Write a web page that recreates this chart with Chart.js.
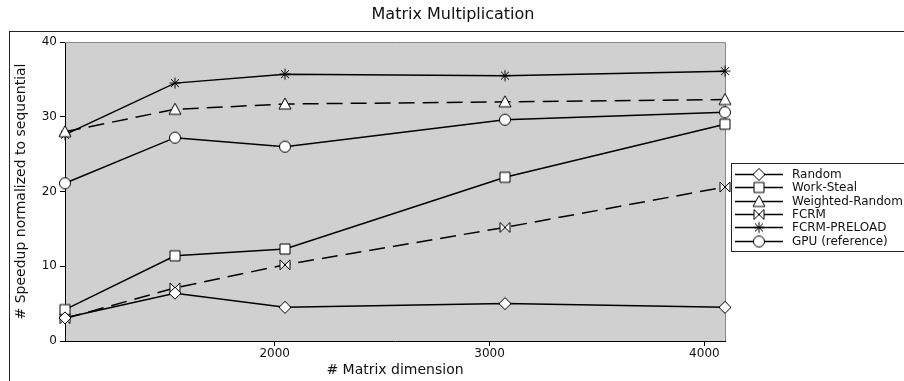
<!DOCTYPE html>
<html>
<head>
<meta charset="utf-8">
<script src="https://cdn.jsdelivr.net/npm/chart.js@4/dist/chart.umd.min.js"></script>
<style>
  html, body { margin: 0; padding: 0; background: #fff; }
  #wrap { width: 904px; height: 381px; }
</style>
</head>
<body>
<div id="wrap"><canvas id="myChart" width="904" height="381"></canvas></div>
<script>
// data
var dims = [1024, 1536, 2048, 3072, 4096];
var seriesNames = ['Random', 'Work-Steal', 'Weighted-Random', 'FCRM', 'FCRM-PRELOAD', 'GPU (reference)'];
var randomVals = [3.1, 6.4, 4.5, 5.0, 4.5];
var workStealVals = [4.2, 11.4, 12.3, 21.9, 29.0];
var weightedVals = [28.0, 31.0, 31.7, 32.0, 32.3];
var fcrmVals = [3.0, 7.1, 10.2, 15.2, 20.6];
var preloadVals = [27.6, 34.5, 35.7, 35.5, 36.1];
var gpuVals = [21.1, 27.2, 26.0, 29.6, 30.6];
var xTicks = [2000, 3000, 4000];
var yTicks = [0, 10, 20, 30, 40];

var FONT = "'DejaVu Sans', sans-serif";

// marker images, drawn once and used for the points and the legend
function makeMarker(kind) {
    var c = document.createElement('canvas');
    c.width = 16; c.height = 16;
    var g = c.getContext('2d');
    g.translate(8, 8);
    g.lineWidth = 1;
    g.strokeStyle = '#000';
    g.fillStyle = '#fff';
    g.beginPath();
    if (kind == 'diamond') {
        g.moveTo(0, -6); g.lineTo(6, 0); g.lineTo(0, 6); g.lineTo(-6, 0); g.closePath();
    } else if (kind == 'square') {
        g.rect(-5, -5, 10, 10);
    } else if (kind == 'triangle') {
        g.moveTo(0, -6); g.lineTo(6, 5); g.lineTo(-6, 5); g.closePath();
    } else if (kind == 'bowtie') {
        g.moveTo(-5, -5); g.lineTo(5, 5); g.lineTo(5, -5); g.lineTo(-5, 5); g.closePath();
    } else if (kind == 'circle') {
        g.arc(0, 0, 5.5, 0, Math.PI * 2);
    }
    if (kind == 'star') {
        g.moveTo(0, -5.5); g.lineTo(0, 5.5);
        g.moveTo(-5.5, 0); g.lineTo(5.5, 0);
        g.moveTo(-4, -4); g.lineTo(4, 4);
        g.moveTo(4, -4); g.lineTo(-4, 4);
        g.stroke();
    } else {
        g.fill();
        g.stroke();
    }
    return c;
}

var markers = [makeMarker('diamond'), makeMarker('square'), makeMarker('triangle'),
               makeMarker('bowtie'), makeMarker('star'), makeMarker('circle')];
var dashes = [[], [], [16, 8], [16, 8], [], []];
var allVals = [randomVals, workStealVals, weightedVals, fcrmVals, preloadVals, gpuVals];

var datasets = [];
for (var i = 0; i < seriesNames.length; i++) {
    var pts = [];
    for (var j = 0; j < dims.length; j++) {
        pts.push({x: dims[j], y: allVals[i][j]});
    }
    datasets.push({
        label: seriesNames[i],
        data: pts,
        borderColor: '#000',
        borderWidth: 1.5,
        borderDash: dashes[i],
        pointStyle: markers[i],
        pointRadius: 6,
        pointHoverRadius: 6,
        fill: false,
        tension: 0,
        clip: false
    });
}

// frame, title, plot background and the legend box
const decor = {
    id: 'decor',
    beforeDraw: function(chart) {
        var ctx = chart.ctx, a = chart.chartArea;
        ctx.save();
        ctx.strokeStyle = '#222';
        ctx.lineWidth = 1;
        ctx.strokeRect(9.5, 31.5, 1000, 500);
        ctx.fillStyle = '#d0d0d0';
        ctx.fillRect(a.left, a.top, a.right - a.left, a.bottom - a.top);
        ctx.fillStyle = '#111';
        ctx.font = '16px ' + FONT;
        ctx.textAlign = 'center';
        ctx.textBaseline = 'middle';
        ctx.fillText('Matrix Multiplication', 453, 15);
        ctx.restore();
    },
    beforeDatasetsDraw: function(chart) {
        var ctx = chart.ctx, a = chart.chartArea;
        ctx.save();
        ctx.strokeStyle = '#888';
        ctx.lineWidth = 1;
        ctx.beginPath();
        ctx.moveTo(a.left, a.top + 0.5);
        ctx.lineTo(a.right + 0.5, a.top + 0.5);
        ctx.lineTo(a.right + 0.5, a.bottom);
        ctx.stroke();
        ctx.restore();
    },
    afterDraw: function(chart) {
        var ctx = chart.ctx;
        ctx.save();
        ctx.fillStyle = '#fff';
        ctx.fillRect(731.5, 163.5, 200, 88);
        ctx.strokeStyle = '#222';
        ctx.lineWidth = 1;
        ctx.strokeRect(731.5, 163.5, 200, 88);
        ctx.font = '12px ' + FONT;
        ctx.textBaseline = 'middle';
        for (var i = 0; i < seriesNames.length; i++) {
            var y = Math.round(174 + i * 13.3);
            ctx.strokeStyle = '#000';
            ctx.lineWidth = 1.5;
            ctx.beginPath();
            ctx.moveTo(735, y + 0.5);
            ctx.lineTo(783, y + 0.5);
            ctx.stroke();
            ctx.drawImage(markers[i], 759 - 8, y - 7.5);
            ctx.fillStyle = '#111';
            ctx.fillText(seriesNames[i], 792, y + 1);
        }
        ctx.restore();
    }
};

const ctx = document.getElementById('myChart');
const myChart = new Chart(ctx, {
    type: 'line',
    data: { datasets: datasets },
    options: {
        responsive: false,
        animation: false,
        events: [],
        layout: { padding: { top: 42, right: 179, left: 0, bottom: 0 } },
        plugins: {
            legend: { display: false },
            tooltip: { enabled: false },
            title: { display: false }
        },
        scales: {
            x: {
                type: 'linear',
                min: dims[0],
                max: dims[dims.length - 1],
                afterBuildTicks: function(scale) {
                    scale.ticks = xTicks.map(function(v) { return {value: v}; });
                },
                afterFit: function(scale) { scale.height = 40; },
                grid: { drawOnChartArea: false, drawTicks: true, tickLength: 5, color: '#000' },
                border: { color: '#000', width: 1 },
                ticks: {
                    color: '#111', font: { family: FONT, size: 12 }, padding: 1, maxRotation: 0,
                    callback: function(v) { return String(v); }
                },
                title: {
                    display: true,
                    text: '# Matrix dimension',
                    color: '#111',
                    font: { family: FONT, size: 14 },
                    padding: { top: 0, bottom: 2 }
                }
            },
            y: {
                min: 0,
                max: 40,
                afterBuildTicks: function(scale) {
                    scale.ticks = yTicks.map(function(v) { return {value: v}; });
                },
                afterFit: function(scale) { scale.width = 65; },
                grid: { drawOnChartArea: false, drawTicks: true, tickLength: 5, color: '#000' },
                border: { color: '#000', width: 1 },
                ticks: { color: '#111', font: { family: FONT, size: 12 }, padding: 3 },
                title: {
                    display: true,
                    text: '# Speedup normalized to sequential',
                    color: '#111',
                    font: { family: FONT, size: 14 },
                    padding: { top: 13, bottom: 0 }
                }
            }
        }
    },
    plugins: [decor]
});
</script>
</body>
</html>
